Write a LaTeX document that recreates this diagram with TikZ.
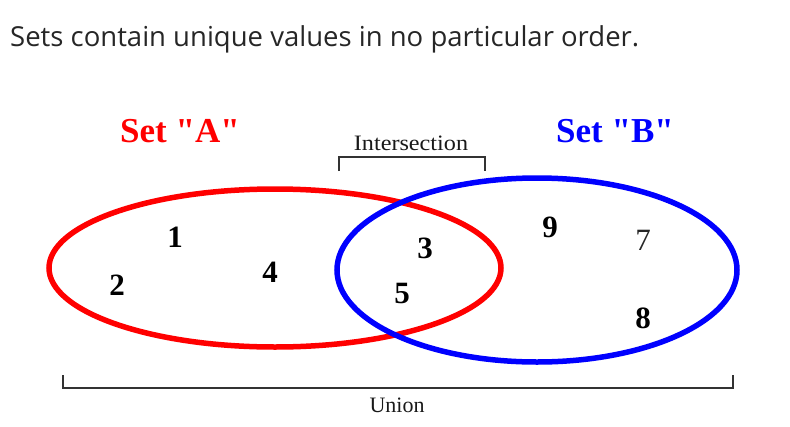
\documentclass[tikz,border=0pt]{standalone}
\usepackage{fontspec}
\setmainfont{Liberation Serif}
\newfontfamily\plainserif{Liberation Serif}
\newfontfamily\topfont{Open Sans}
\begin{document}
\begin{tikzpicture}[x=1pt,y=-1pt,
  setline/.style={line width=5.5pt},
  num/.style={font=\fontsize{31}{31}\selectfont\bfseries, inner sep=0pt},
  bracketline/.style={line width=1.6pt, draw=black!80},
  settitle/.style={font=\plainserif\fontsize{35}{35}\selectfont\bfseries, inner sep=0pt},
  small/.style={font=\fontsize{22}{22}\selectfont, inner sep=0pt, text=black!90}]
\useasboundingbox (0,0) rectangle (790,426);
\node[anchor=base west, inner sep=0pt, font=\topfont\fontsize{27.5}{27.5}\selectfont, text=black!85] (title) at (10,46) {Sets contain unique values in no particular order.};
\node[settitle, text=red] (ta) at (180,131) {Set "A"};
\node[settitle, text=blue] (tb) at (615,131) {Set "B"};
\node[small, xscale=1.1] (inter) at (411,143) {Intersection};
\coordinate (i1) at (339,171);
\coordinate (i2) at (339,157);
\coordinate (i3) at (485,157);
\coordinate (i4) at (485,171);
\draw[bracketline] (i1) -- (i2) -- (i3) -- (i4);
\node[small] (union) at (397,405) {Union};
\coordinate (u1) at (63,375);
\coordinate (u2) at (63,388);
\coordinate (u3) at (733,388);
\coordinate (u4) at (733,375);
\draw[bracketline] (u1) -- (u2) -- (u3) -- (u4);
\coordinate (ca) at (275,268);
\draw[setline, draw=red] (ca) ellipse [x radius=226, y radius=79];
\coordinate (cb) at (537,270);
\draw[setline, draw=blue] (cb) ellipse [x radius=200, y radius=92];
\node[num] (n1) at (175,237) {1};
\node[num] (n2) at (117,285) {2};
\node[num] (n4) at (270,272) {4};
\node[num] (n3) at (425,248) {3};
\node[num] (n5) at (402,293) {5};
\node[num] (n9) at (550,227) {9};
\node[num, font=\fontsize{31}{31}\selectfont, text=black!85] (n7) at (643,240) {7};
\node[num] (n8) at (643,318) {8};
\end{tikzpicture}
\end{document}
